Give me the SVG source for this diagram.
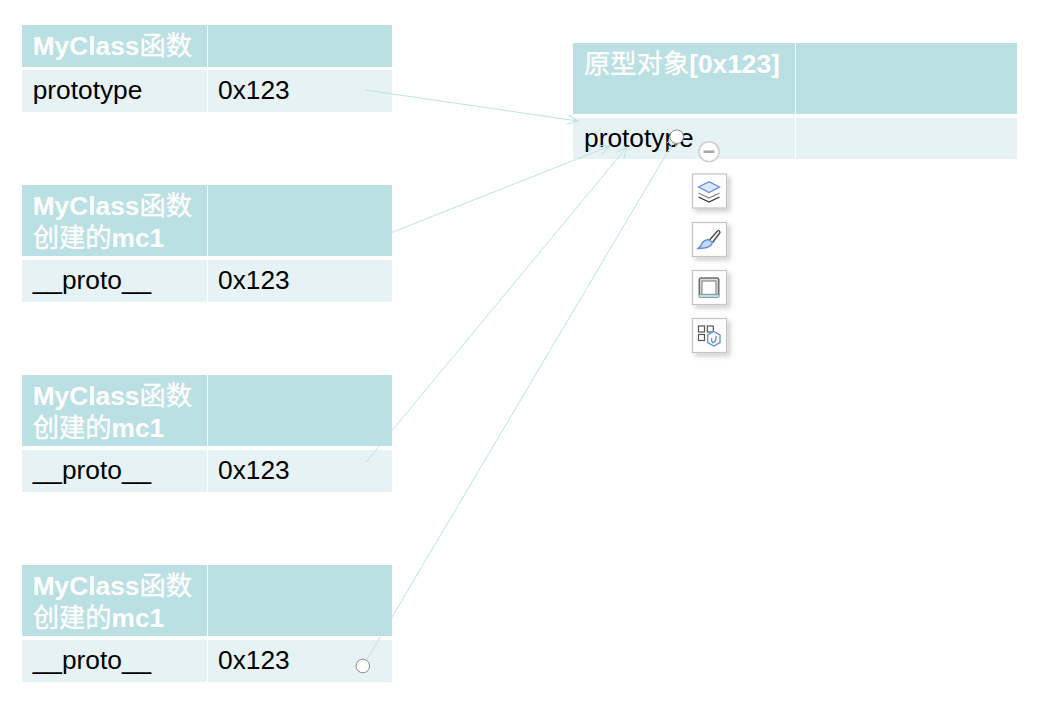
<svg xmlns="http://www.w3.org/2000/svg" width="1040" height="725" viewBox="0 0 1040 725">
<style>
.h{fill:#bae0e4}
.r{fill:#e6f2f4}
text{font-family:"Liberation Sans","Noto Sans CJK SC",sans-serif;font-size:26.3px}
.t{fill:#fff;font-weight:700}
.z{font-weight:400;stroke:#fff;stroke-width:.35}
.c{fill:#000}
.l{fill:none;stroke:#bde2e5;stroke-width:1}
.btn{fill:#fff;stroke:#c4c4c4;stroke-width:1.2;filter:url(#sh)}
.bl{fill:#fff;stroke:#5b8ee0;stroke-width:1.3}
.hd{fill:#fff;stroke:#8c8c8c;stroke-width:1}
</style>
<defs>
<filter id="sh" x="-30%" y="-30%" width="170%" height="170%"><feDropShadow dx="3" dy="3" stdDeviation="2.5" flood-color="#000" flood-opacity=".2"/></filter>
<marker id="a" markerWidth="14" markerHeight="12" refX="12" refY="5" orient="auto" markerUnits="userSpaceOnUse"><path d="M1 0L12 5L1 10" fill="none" stroke="#bde2e5" stroke-width="1"/></marker>
</defs>
<g id="table-myclass">
<rect class="h" x="22" y="25" width="185" height="42"/><rect class="h" x="208" y="25" width="184" height="42"/>
<rect class="r" x="22" y="70" width="185" height="42"/><rect class="r" x="208" y="70" width="184" height="42"/>
<text class="t" x="32.700" y="54.800">MyClass<tspan class="z">函数</tspan></text>
<text class="c" x="32.700" y="99">prototype</text><text class="c" x="218" y="99">0x123</text>
</g>
<g id="table-mc1-a">
<rect class="h" x="22" y="185" width="185" height="71"/><rect class="h" x="208" y="185" width="184" height="71"/>
<rect class="r" x="22" y="260" width="185" height="42"/><rect class="r" x="208" y="260" width="184" height="42"/>
<text class="t" x="32.700" y="214.800">MyClass<tspan class="z">函数</tspan></text><text class="t" x="32.700" y="246.800"><tspan class="z">创建的</tspan>mc1</text>
<text class="c" x="32.700" y="289">__proto__</text><text class="c" x="218" y="289">0x123</text>
</g>
<g id="table-mc1-b">
<rect class="h" x="22" y="375" width="185" height="71"/><rect class="h" x="208" y="375" width="184" height="71"/>
<rect class="r" x="22" y="450" width="185" height="42"/><rect class="r" x="208" y="450" width="184" height="42"/>
<text class="t" x="32.700" y="404.800">MyClass<tspan class="z">函数</tspan></text><text class="t" x="32.700" y="436.800"><tspan class="z">创建的</tspan>mc1</text>
<text class="c" x="32.700" y="479">__proto__</text><text class="c" x="218" y="479">0x123</text>
</g>
<g id="table-mc1-c">
<rect class="h" x="22" y="565" width="185" height="71"/><rect class="h" x="208" y="565" width="184" height="71"/>
<rect class="r" x="22" y="640" width="185" height="42"/><rect class="r" x="208" y="640" width="184" height="42"/>
<text class="t" x="32.700" y="594.800">MyClass<tspan class="z">函数</tspan></text><text class="t" x="32.700" y="626.800"><tspan class="z">创建的</tspan>mc1</text>
<text class="c" x="32.700" y="669">__proto__</text><text class="c" x="218" y="669">0x123</text>
</g>
<g id="table-proto">
<rect class="h" x="573" y="43" width="222" height="71"/><rect class="h" x="796" y="43" width="221" height="71"/>
<rect class="r" x="573" y="118" width="222" height="41"/><rect class="r" x="796" y="118" width="221" height="41"/>
<text class="t" x="584" y="73"><tspan class="z">原型对象</tspan>[0x123]</text>
<text class="c" x="584" y="147">prototype</text>
</g>
<g id="connectors">
<path class="l" marker-end="url(#a)" d="M365 90L578 121"/>
<path class="l" marker-end="url(#a)" d="M365 243L610 146"/>
<path class="l" marker-end="url(#a)" d="M366 462L627 147"/>
<path class="l" marker-end="url(#a)" d="M363 666L677 136"/>
</g>
<g id="handles">
<circle class="hd" cx="676.700" cy="136.700" r="6.800"/>
<circle class="hd" cx="362.800" cy="666" r="6.800"/>
</g>
<g id="toolbar-collapse">
<circle cx="709" cy="151.700" r="10" fill="#fff" stroke="#cfcfcf" stroke-width="1.600"/>
<path d="M703.500 151.700H714.500" stroke="#a8a8a8" stroke-width="2.600"/>
</g>
<g id="toolbar-layers">
<rect class="btn" x="692.500" y="174" width="34" height="34"/>
<path d="M698.500 197L709 202L719.500 197" fill="none" stroke="#333" stroke-width="1.200"/>
<path d="M698.500 193L709 198L719.500 193" fill="none" stroke="#888" stroke-width="1.200"/>
<path d="M698.500 187L709 181.700L719.500 187L709 192.500Z" fill="#dbe7fb" stroke="#5b8ee0" stroke-width="1.300"/>
</g>
<g id="toolbar-brush">
<rect class="btn" x="692.500" y="222.500" width="34" height="34"/>
<path d="M709.500 240L717.500 231Q719.500 229.800 720 232.500L712.500 242.500" fill="#fff" stroke="#444" stroke-width="1.300"/>
<path d="M708.500 239.500L712.500 242.500Q711 248.500 698 248.500Q701.500 246 701.500 244Q703 240.500 708.500 239.500Z" fill="#c3d8f8" stroke="#5b8ee0" stroke-width="1.300"/>
</g>
<g id="toolbar-frame">
<rect class="btn" x="692.500" y="270.500" width="34" height="34"/>
<path d="M699.300 295V279.500Q699.300 278 701 278H717Q718.700 278 718.700 279.500V295" fill="#ddd" stroke="#6e6e6e" stroke-width="1.600"/>
<rect x="702" y="281" width="14" height="13.500" fill="#fff" stroke="#777" stroke-width="1"/>
<rect x="698.800" y="294.300" width="20.500" height="3.200" rx="1" fill="#b9e0e3" stroke="#777" stroke-width=".7"/>
</g>
<g id="toolbar-grid">
<rect class="btn" x="692.500" y="318.500" width="34" height="34"/>
<g fill="none" stroke="#555" stroke-width="1.200"><rect x="698.500" y="326" width="6" height="6"/><rect x="707.300" y="326" width="6" height="6"/><rect x="698.500" y="334.500" width="6" height="6"/></g>
<path class="bl" d="M713.800 331.500L720 335V342.500L713.800 346L707.700 342.500V335Z"/>
<path d="M713 343Q710.500 340 712 338M713 343Q716.500 341 716 336" fill="none" stroke="#5b8ee0" stroke-width="1.300"/>
</g>
</svg>
